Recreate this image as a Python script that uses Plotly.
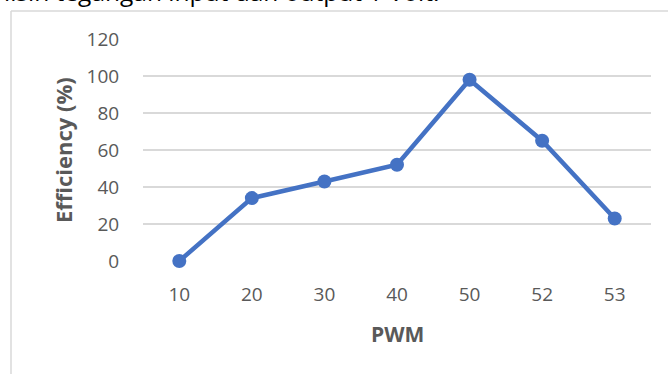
import plotly.graph_objects as go

pwm = ["10", "20", "30", "40", "50", "52", "53"]
efficiency = [0, 34, 43, 52, 98, 65, 23]
y_ticks = [0, 20, 40, 60, 80, 100, 120]

W, H = 668, 374
L, R, T, B = 143, 651, 39, 261
pw, ph = R - L, B - T

def px(x):
    return (x - L) / pw

def py(y):
    return (B - y) / ph

FONT = "Open Sans"

fig = go.Figure()
fig.add_trace(go.Scatter(
    x=pwm, y=efficiency, mode="lines+markers",
    line=dict(color="#4472c4", width=4.5),
    marker=dict(color="#4472c4", size=14),
    cliponaxis=False, showlegend=False,
))

fig.update_layout(
    width=W, height=H,
    margin=dict(l=L, r=W - R, t=T, b=H - B, autoexpand=False),
    paper_bgcolor="white", plot_bgcolor="white",
    font=dict(family=FONT, color="#595959", size=19),
    xaxis=dict(type="category", range=[-0.5, 6.5], showgrid=False, zeroline=False,
               showline=False, ticks="outside", ticklen=16, tickcolor="rgba(0,0,0,0)",
               tickfont=dict(size=19, color="#595959")),
    yaxis=dict(range=[0, 120], tickvals=y_ticks, showgrid=True, gridcolor="#d9d9d9",
               gridwidth=1.5, zeroline=False, showline=False, ticks="outside",
               ticklen=19, tickcolor="rgba(0,0,0,0)",
               tickfont=dict(size=19, color="#595959")),
    shapes=[
        dict(type="line", xref="paper", yref="paper", x0=px(11), x1=px(668),
             y0=py(11), y1=py(11), line=dict(color="#d9d9d9", width=1.5)),
        dict(type="line", xref="paper", yref="paper", x0=px(11), x1=px(11),
             y0=py(11), y1=py(374), line=dict(color="#d9d9d9", width=1.5)),
    ],
    annotations=[
        dict(text="<b>PWM</b>", xref="paper", yref="paper", x=0.5, y=py(334),
             xanchor="center", yanchor="middle", showarrow=False,
             font=dict(family=FONT, size=21, color="#595959")),
        dict(text="<b>Efficiency (%)</b>", xref="paper", yref="paper", x=px(63), y=0.5,
             xanchor="center", yanchor="middle", textangle=-90, showarrow=False,
             font=dict(family=FONT, size=22, color="#595959")),
        dict(text="lisih tegangan input dan output 1 Volt.", xref="paper", yref="paper",
             x=px(2), y=py(-8), xanchor="left", yanchor="middle", showarrow=False,
             font=dict(family=FONT, size=24.5, color="#000000")),
    ],
)

fig.write_html("out.html", config={"displayModeBar": False},
               post_script="document.body.style.margin='0';")
